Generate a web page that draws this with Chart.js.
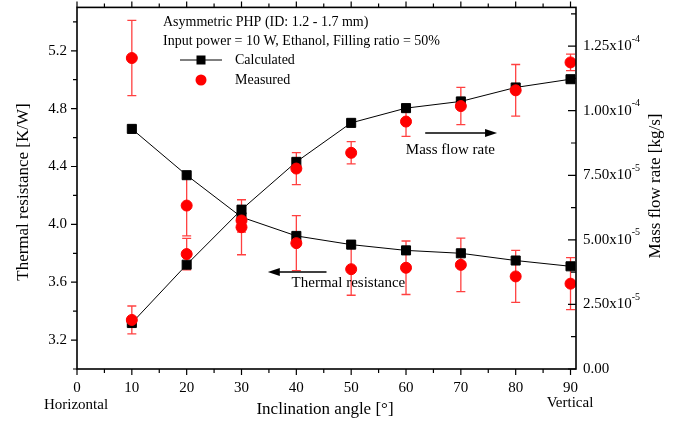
<!DOCTYPE html>
<html>
<head>
<meta charset="utf-8">
<script src="https://cdn.jsdelivr.net/npm/chart.js@4.4.1/dist/chart.umd.min.js"></script>
<style>
html,body{margin:0;padding:0;background:#fff;}
canvas{display:block;}
</style>
</head>
<body>
<canvas id="c" width="676" height="423"></canvas>
<script>
// ---- data ----
const angles = [10, 20, 30, 40, 50, 60, 70, 80, 90];
const resistanceCalculated = [4.66, 4.34, 4.05, 3.92, 3.86, 3.82, 3.80, 3.75, 3.71];
const resistanceMeasured   = [5.15, 4.13, 3.98, 3.87, 3.69, 3.70, 3.72, 3.64, 3.59];
const resistanceError      = [0.26, 0.21, 0.19, 0.19, 0.18, 0.185, 0.185, 0.18, 0.18];
const flowCalculated = [1.78e-5, 4.04e-5, 6.17e-5, 8.02e-5, 9.53e-5, 10.10e-5, 10.36e-5, 10.90e-5, 11.22e-5];
const flowMeasured   = [1.90e-5, 4.45e-5, 5.75e-5, 7.76e-5, 8.37e-5, 9.58e-5, 10.18e-5, 10.79e-5, 11.87e-5];
const flowError      = [0.54e-5, 0.61e-5, 0.45e-5, 0.62e-5, 0.43e-5, 0.57e-5, 0.72e-5, 1.00e-5, 0.32e-5];

const xTickValues = [0, 10, 20, 30, 40, 50, 60, 70, 80, 90];
const xTickLabels = ['0', '10', '20', '30', '40', '50', '60', '70', '80', '90'];
const leftTickValues = [3.2, 3.6, 4.0, 4.4, 4.8, 5.2];
const leftTickLabels = ['3.2', '3.6', '4.0', '4.4', '4.8', '5.2'];
const rightTickValues = [0, 2.5e-5, 5.0e-5, 7.5e-5, 1.0e-4, 1.25e-4];
const rightTickMantissa = ['0.00', '2.50x10', '5.00x10', '7.50x10', '1.00x10', '1.25x10'];
const rightTickExponent = ['', '-5', '-5', '-5', '-4', '-4'];

const titleLines = ['Asymmetric PHP (ID: 1.2 - 1.7 mm)', 'Input power = 10 W, Ethanol, Filling ratio = 50%'];
const legendLabels = ['Calculated', 'Measured'];
const xTitle = 'Inclination angle [\u00B0]';
const leftTitle = 'Thermal resistance [K/W]';
const rightTitle = 'Mass flow rate [kg/s]';
const xEndLabels = ['Horizontal', 'Vertical'];
// arrow annotations in data units
const thermalArrow = {x1: 45.5, x2: 34.8, y: 3.67, label: 'Thermal resistance', lx: 49.5, ly: 3.594};
const flowArrow = {x1: 63.5, x2: 76.6, y: 9.135e-5, label: 'Mass flow rate', lx: 68.1, ly: 8.48e-5};

const SERIF = '"Liberation Serif", "Times New Roman", serif';
const RED = '#ff0000';

const pts = (ys) => angles.map((a, i) => ({x: a, y: ys[i]}));

const errPlugin = {
  id: 'errbars',
  beforeDatasetsDraw(chart) {
    const ctx = chart.ctx;
    const sets = [
      {vals: resistanceMeasured, err: resistanceError, axis: chart.scales.yL},
      {vals: flowMeasured, err: flowError, axis: chart.scales.yR}
    ];
    ctx.save();
    ctx.strokeStyle = 'rgba(255,0,0,0.75)';
    ctx.lineWidth = 1.3;
    sets.forEach(s => {
      s.vals.forEach((v, i) => {
        const px = chart.scales.x.getPixelForValue(angles[i]);
        const t = s.axis.getPixelForValue(v + s.err[i]);
        const b = s.axis.getPixelForValue(v - s.err[i]);
        ctx.beginPath();
        ctx.moveTo(px, t); ctx.lineTo(px, b);
        ctx.moveTo(px - 4.5, t); ctx.lineTo(px + 4.5, t);
        ctx.moveTo(px - 4.5, b); ctx.lineTo(px + 4.5, b);
        ctx.stroke();
      });
    });
    ctx.restore();
  }
};

const framePlugin = {
  id: 'frame',
  afterDraw(chart) {
    const ctx = chart.ctx;
    const a = chart.chartArea;
    const x = chart.scales.x, yL = chart.scales.yL, yR = chart.scales.yR;
    ctx.save();
    ctx.strokeStyle = '#000';
    ctx.lineWidth = 1.6;
    ctx.strokeRect(a.left, a.top, a.right - a.left, a.bottom - a.top);
    ctx.lineWidth = 1.2;
    ctx.beginPath();
    for (let v = 0; v <= 90; v += 5) {
      const px = x.getPixelForValue(v);
      const len = v % 10 === 0 ? 6 : 4;
      ctx.moveTo(px, a.bottom); ctx.lineTo(px, a.bottom + len);
      ctx.moveTo(px, a.top); ctx.lineTo(px, a.top - len);
    }
    for (let k = 0; k <= 12; k++) {
      const v = 3.0 + k * 0.2;
      const py = yL.getPixelForValue(v);
      const len = (k % 2 === 1) ? 6 : 4;
      ctx.moveTo(a.left, py); ctx.lineTo(a.left - len, py);
    }
    for (let k = 0; k <= 11; k++) {
      const v = k * 1.25e-5;
      const py = yR.getPixelForValue(v);
      const len = (k % 2 === 0) ? 8 : 5;
      ctx.moveTo(a.right, py); ctx.lineTo(a.right - len, py);
    }
    ctx.stroke();

    ctx.fillStyle = '#000';
    rightTickValues.forEach((v, i) => {
      const py = yR.getPixelForValue(v);
      ctx.font = '15px ' + SERIF;
      ctx.textAlign = 'left';
      ctx.textBaseline = 'middle';
      const tx = a.right + 7;
      ctx.fillText(rightTickMantissa[i], tx, py);
      if (rightTickExponent[i]) {
        const w = ctx.measureText(rightTickMantissa[i]).width;
        ctx.font = '10px ' + SERIF;
        ctx.fillText(rightTickExponent[i], tx + w, py - 7);
      }
    });
    ctx.font = '17px ' + SERIF;
    ctx.textAlign = 'center';
    ctx.textBaseline = 'middle';
    ctx.fillText(xTitle, 325, 410);
    ctx.font = '15px ' + SERIF;
    ctx.fillText(xEndLabels[0], 76, 405);
    ctx.fillText(xEndLabels[1], 570, 403);
    ctx.font = '17px ' + SERIF;
    ctx.save();
    ctx.translate(24, 192); ctx.rotate(-Math.PI / 2);
    ctx.fillText(leftTitle, 0, 0);
    ctx.restore();
    ctx.save();
    ctx.translate(656, 186); ctx.rotate(-Math.PI / 2);
    ctx.fillText(rightTitle, 0, 0);
    ctx.restore();

    ctx.font = '14px ' + SERIF;
    ctx.textAlign = 'left';
    ctx.fillText(titleLines[0], 163, 22);
    ctx.fillText(titleLines[1], 163, 41);
    ctx.lineWidth = 1;
    ctx.beginPath(); ctx.moveTo(180, 60); ctx.lineTo(222, 60); ctx.stroke();
    ctx.fillRect(196.5, 55.5, 9, 9);
    ctx.fillText(legendLabels[0], 235, 60);
    ctx.fillStyle = RED;
    ctx.beginPath(); ctx.arc(201, 80, 5.5, 0, Math.PI * 2); ctx.fill();
    ctx.fillStyle = '#000';
    ctx.fillText(legendLabels[1], 235, 80);

    const drawArrow = (ar, axis) => {
      const x1 = x.getPixelForValue(ar.x1), x2 = x.getPixelForValue(ar.x2), py = axis.getPixelForValue(ar.y);
      const dir = Math.sign(x2 - x1);
      ctx.lineWidth = 1.5;
      ctx.beginPath(); ctx.moveTo(x1, py); ctx.lineTo(x2 - dir * 10, py); ctx.stroke();
      ctx.beginPath(); ctx.moveTo(x2, py); ctx.lineTo(x2 - dir * 12, py - 4); ctx.lineTo(x2 - dir * 12, py + 4); ctx.closePath(); ctx.fill();
      ctx.font = '15px ' + SERIF;
      ctx.textAlign = 'center';
      ctx.fillText(ar.label, x.getPixelForValue(ar.lx), axis.getPixelForValue(ar.ly));
    };
    drawArrow(thermalArrow, yL);
    drawArrow(flowArrow, yR);
    ctx.restore();
  }
};

const noPad = s => { s.paddingTop = 0; s.paddingBottom = 0; };

new Chart(document.getElementById('c'), {
  type: 'line',
  data: {
    datasets: [
      {label: legendLabels[1], data: pts(resistanceMeasured), yAxisID: 'yL', showLine: false,
       pointStyle: 'circle', pointRadius: 5.5, pointBackgroundColor: RED, pointBorderColor: RED, borderColor: RED, order: 1},
      {label: legendLabels[1], data: pts(flowMeasured), yAxisID: 'yR', showLine: false,
       pointStyle: 'circle', pointRadius: 5.5, pointBackgroundColor: RED, pointBorderColor: RED, borderColor: RED, order: 1},
      {label: legendLabels[0], data: pts(resistanceCalculated), yAxisID: 'yL', borderColor: '#000', borderWidth: 1,
       pointStyle: 'rect', pointRadius: 6.4, pointBackgroundColor: '#000', pointBorderColor: '#000', order: 2},
      {label: legendLabels[0], data: pts(flowCalculated), yAxisID: 'yR', borderColor: '#000', borderWidth: 1,
       pointStyle: 'rect', pointRadius: 6.4, pointBackgroundColor: '#000', pointBorderColor: '#000', order: 2}
    ]
  },
  options: {
    responsive: false,
    animation: false,
    devicePixelRatio: 1,
    layout: {padding: {top: 4, left: 0, right: 0, bottom: 0}},
    plugins: {legend: {display: false}, tooltip: {enabled: false}},
    scales: {
      x: {
        type: 'linear', position: 'bottom', min: 0, max: 91,
        afterBuildTicks: s => { s.ticks = xTickValues.map(v => ({value: v})); },
        afterFit: s => { s.height = 54; s.paddingLeft = 0; s.paddingRight = 0; },
        ticks: {callback: (v) => { const i = xTickValues.indexOf(v); return i >= 0 ? xTickLabels[i] : ''; },
                font: {family: SERIF, size: 15}, color: '#000', padding: 10, maxRotation: 0, autoSkip: false},
        grid: {display: false, drawTicks: false}, border: {display: false}
      },
      yL: {
        type: 'linear', position: 'left', min: 3.0, max: 5.5,
        afterBuildTicks: s => { s.ticks = leftTickValues.map(v => ({value: v})); },
        afterFit: s => { s.width = 77; noPad(s); },
        ticks: {callback: (v) => { const i = leftTickValues.findIndex(t => Math.abs(t - v) < 1e-9); return i >= 0 ? leftTickLabels[i] : ''; },
                font: {family: SERIF, size: 15}, color: '#000', padding: 10, autoSkip: false},
        grid: {display: false, drawTicks: false}, border: {display: false}
      },
      yR: {
        type: 'linear', position: 'right', min: 0, max: 1.4e-4,
        afterFit: s => { s.width = 100; noPad(s); },
        ticks: {display: false},
        grid: {display: false, drawTicks: false}, border: {display: false}
      }
    }
  },
  plugins: [errPlugin, framePlugin]
});
</script>
</body>
</html>
